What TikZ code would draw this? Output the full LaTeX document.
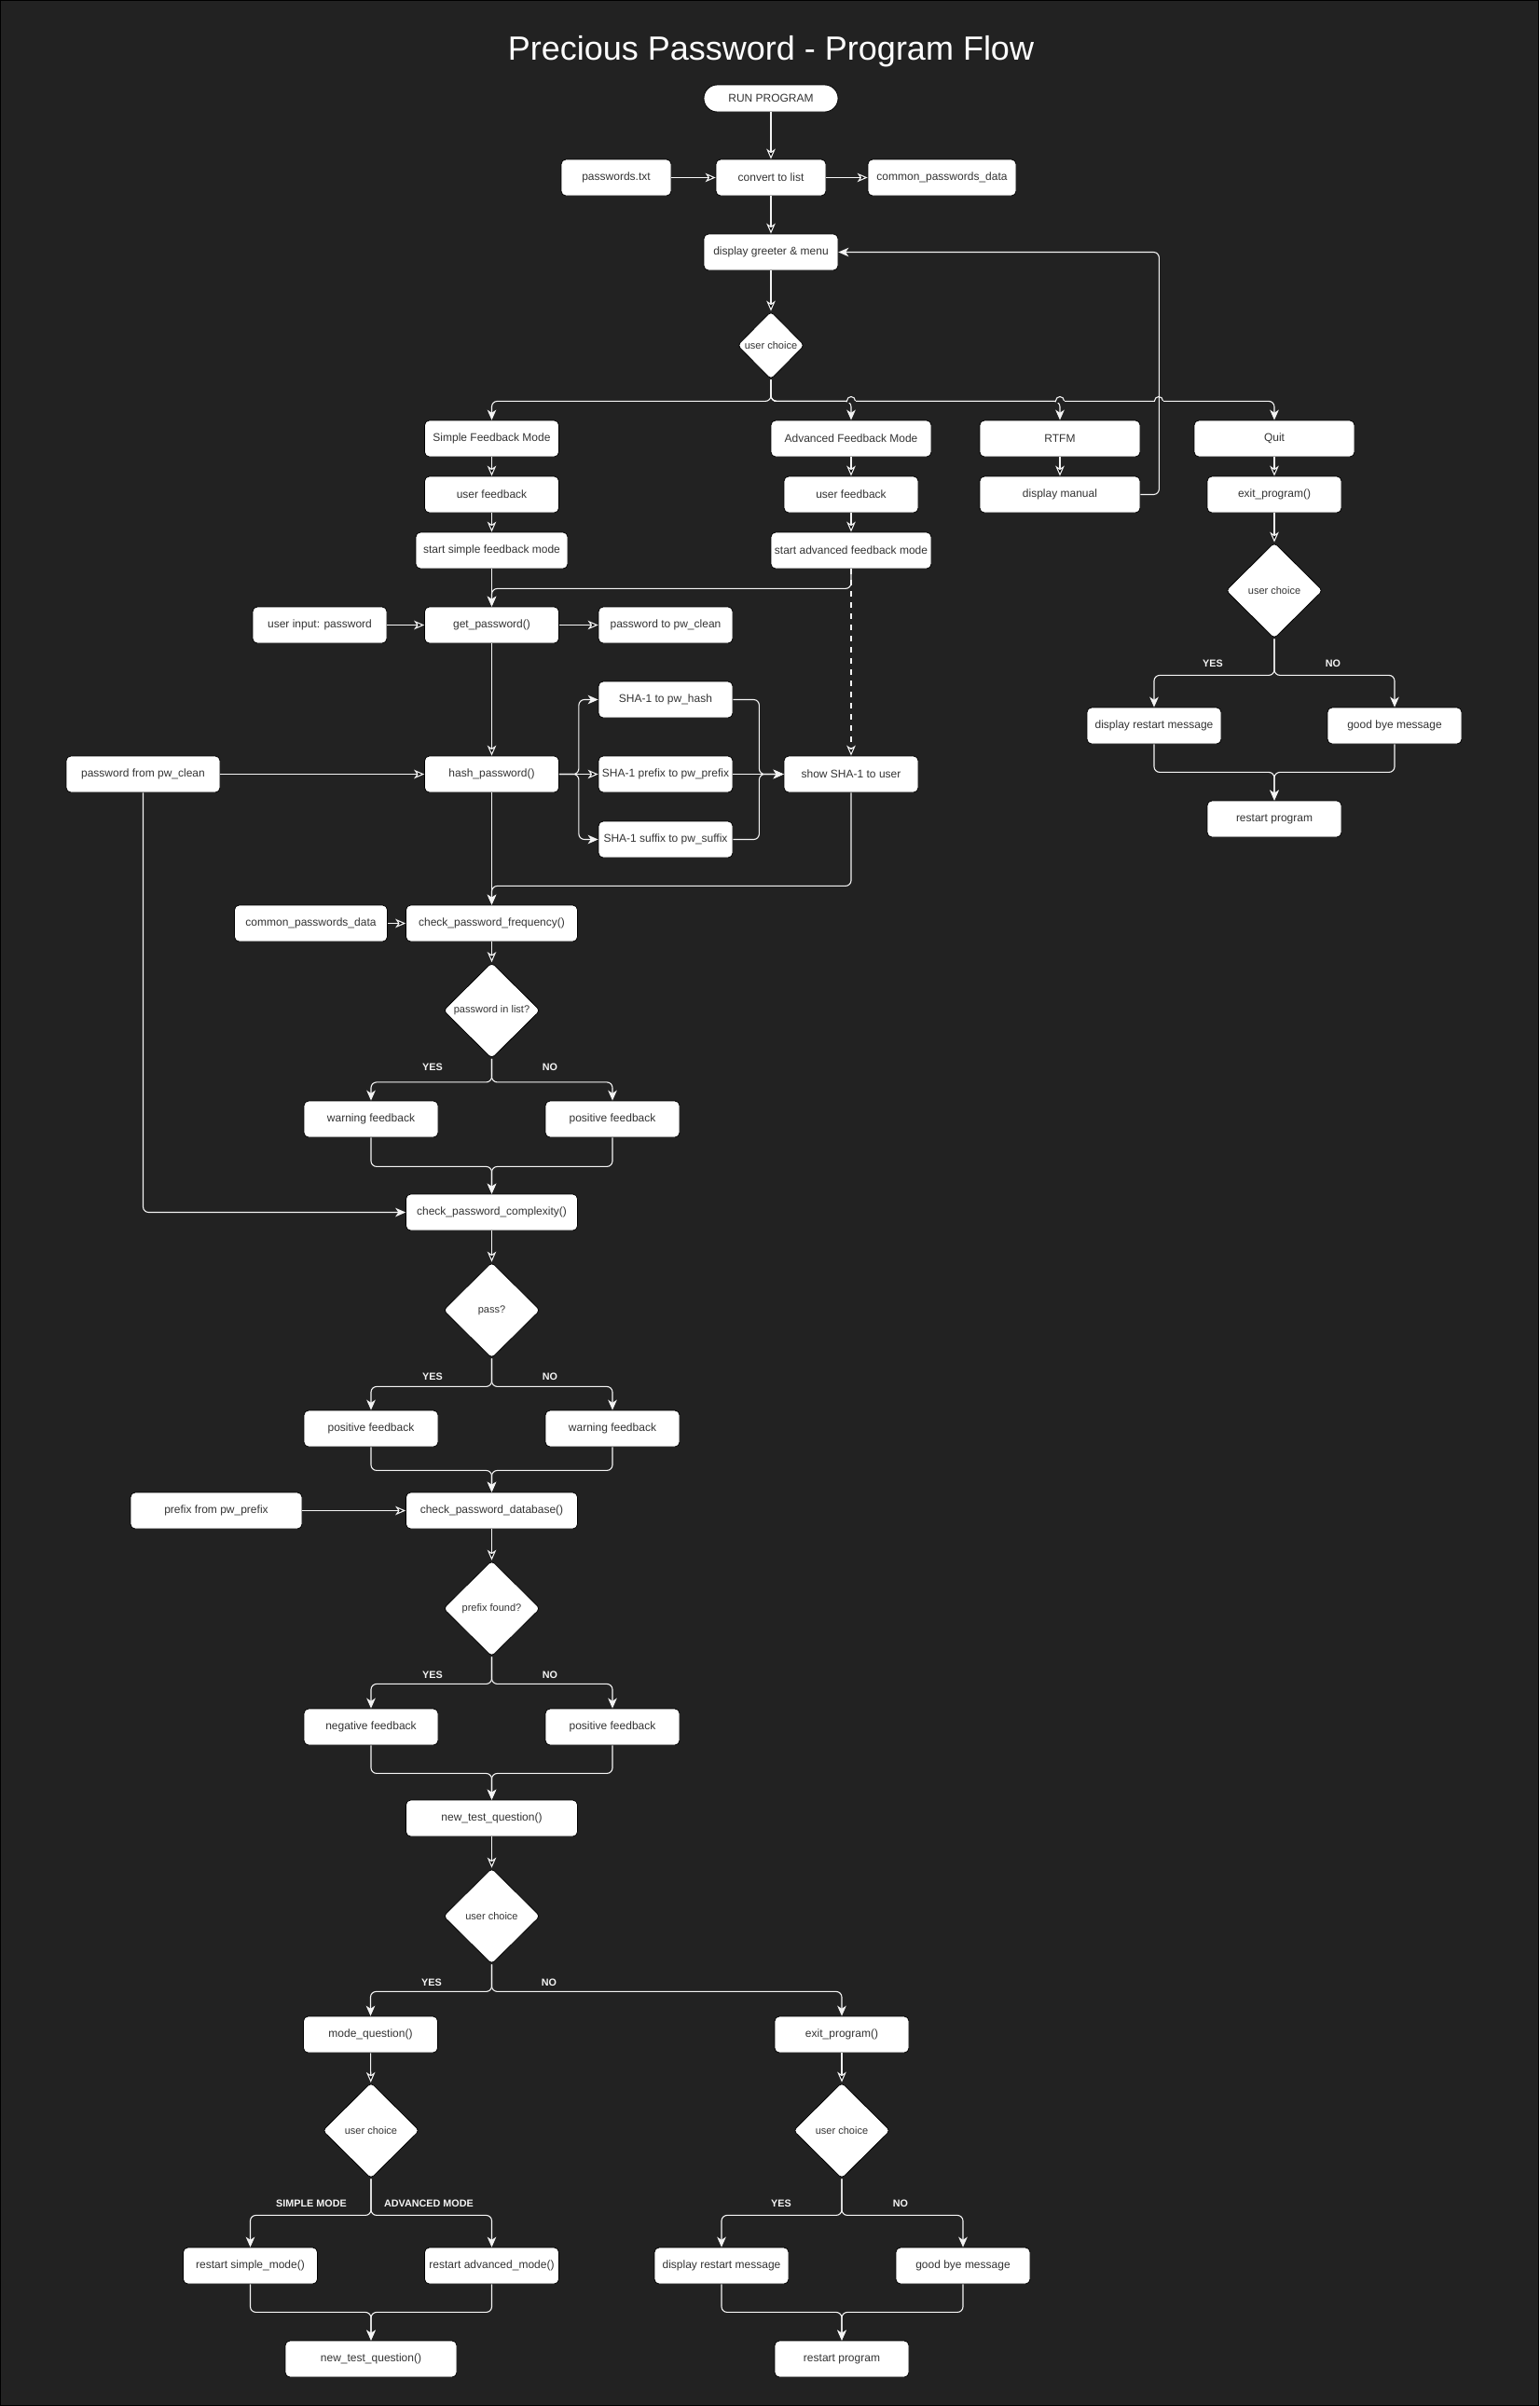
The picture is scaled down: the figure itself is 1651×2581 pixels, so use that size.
\documentclass[tikz,border=0pt]{standalone}
\usepackage{fontspec}
\setmainfont{Liberation Sans}
\usetikzlibrary{shapes.geometric,arrows.meta}

\definecolor{canvas}{HTML}{222222}
\definecolor{ink}{HTML}{333333}
\definecolor{wire}{HTML}{F4F4F4}

\begin{document}
\begin{tikzpicture}[x=0.5pt,y=-0.5pt,>={Stealth[length=5.5pt,width=4.8pt,inset=1.6pt]},
    proc node/.style={rectangle,rounded corners=2.5pt,draw=black,line width=0.4pt,fill=white,text=ink,inner sep=0pt,minimum width=72pt,minimum height=19.5pt,font=\fontsize{6}{7}\selectfont},
    start node/.style={proc node,rounded corners=7.25pt,minimum height=14.5pt},
    choice node/.style={diamond,rounded corners=2pt,draw=black,line width=0.4pt,fill=white,text=ink,inner sep=0pt,minimum width=52pt,minimum height=51.5pt,font=\fontsize{5.5}{6.5}\selectfont},
    branch label/.style={text=wire,font=\bfseries\fontsize{5.4}{6}\selectfont},
    flow/.style={->,draw=wire,line width=0.55pt},
    wire/.style={flow,rounded corners=3pt}]

    \useasboundingbox (0,0) rectangle (1651,2581);
    \fill[canvas] (0,0) rectangle (1651,2581);
    \draw[black,line width=0.6pt] (0.6,0.6) rectangle (1650.4,2580.4);

    \node[text=white,font=\fontsize{18}{22}\selectfont] (title) at (827,55) {Precious Password - Program Flow};

    % start and menu
    \node[start node] (run) at (827,105.5) {RUN PROGRAM};
    \node[proc node,minimum width=59pt] (pwtxt) at (661,190.5) {passwords.txt};
    \node[proc node,minimum width=59pt] (conv) at (827,190.5) {convert to list};
    \node[proc node,minimum width=79.5pt] (cpd1) at (1010.5,190.5) {common\_passwords\_data};
    \node[proc node] (greet) at (827,270.5) {display greeter \& menu};
    \node[choice node,minimum width=36pt,minimum height=36.5pt] (ch1) at (827,370.5) {user choice};

    % menu options
    \node[proc node] (simple) at (527.5,470.5) {Simple Feedback Mode};
    \node[proc node,minimum width=86pt] (adv) at (913,470.5) {Advanced Feedback Mode};
    \node[proc node,minimum width=86pt] (rtfm) at (1137,470.5) {RTFM};
    \node[proc node,minimum width=86pt] (quit) at (1367,470.5) {Quit};
    \node[proc node] (uf1) at (527.5,530.5) {user feedback};
    \node[proc node] (uf2) at (913,530.5) {user feedback};
    \node[proc node,minimum width=86pt] (manual) at (1137,530.5) {display manual};
    \node[proc node] (exit1) at (1367,530.5) {exit\_program()};
    \node[proc node,minimum width=81.5pt] (ssimple) at (527.5,590.5) {start simple feedback mode};
    \node[proc node,minimum width=86pt] (sadv) at (913,590.5) {start advanced feedback mode};

    % quit branch
    \node[choice node] (ch2) at (1367,633.5) {user choice};
    \node[branch label] (yes1) at (1301,712) {YES};
    \node[branch label] (no1) at (1430,712) {NO};
    \node[proc node] (restart1) at (1238,778.5) {display restart message};
    \node[proc node] (bye1) at (1496,778.5) {good bye message};
    \node[proc node] (rprog1) at (1367,878.5) {restart program};

    % password and hashing
    \node[proc node] (uin) at (343,670.5) {user input: password};
    \node[proc node] (getpw) at (527.5,670.5) {get\_password()};
    \node[proc node] (pwclean) at (714,670.5) {password to pw\_clean};
    \node[proc node] (sha) at (714,750.5) {SHA-1 to pw\_hash};
    \node[proc node,minimum width=82.5pt] (pwfrom) at (153.5,830.5) {password from pw\_clean};
    \node[proc node] (hashpw) at (527.5,830.5) {hash\_password()};
    \node[proc node] (pre) at (714,830.5) {SHA-1 prefix to pw\_prefix};
    \node[proc node] (suf) at (714,900.5) {SHA-1 suffix to pw\_suffix};
    \node[proc node] (show) at (913,830.5) {show SHA-1 to user};

    % frequency check
    \node[proc node,minimum width=82pt] (cpd2) at (333.5,990.5) {common\_passwords\_data};
    \node[proc node,minimum width=92pt] (freq) at (527.5,990.5) {check\_password\_frequency()};
    \node[choice node] (inlist) at (527.5,1084) {password in list?};
    \node[branch label] (yes2) at (464,1145) {YES};
    \node[branch label] (no2) at (590,1145) {NO};
    \node[proc node] (warn1) at (398,1200.5) {warning feedback};
    \node[proc node] (pos1) at (657,1200.5) {positive feedback};

    % complexity check
    \node[proc node,minimum width=92pt] (cplx) at (527.5,1300.5) {check\_password\_complexity()};
    \node[choice node] (pass) at (527.5,1405.5) {pass?};
    \node[branch label] (yes3) at (464,1477) {YES};
    \node[branch label] (no3) at (590,1477) {NO};
    \node[proc node] (pos2) at (398,1532.5) {positive feedback};
    \node[proc node] (warn2) at (657,1532.5) {warning feedback};

    % database check
    \node[proc node,minimum width=92pt] (pfx) at (232,1620.5) {prefix from pw\_prefix};
    \node[proc node,minimum width=92pt] (dbase) at (527.5,1620.5) {check\_password\_database()};
    \node[choice node] (found) at (527.5,1725.5) {prefix found?};
    \node[branch label] (yes4) at (464,1797) {YES};
    \node[branch label] (no4) at (590,1797) {NO};
    \node[proc node] (neg) at (398,1852.5) {negative feedback};
    \node[proc node] (pos3) at (657,1852.5) {positive feedback};

    % new test
    \node[proc node,minimum width=92pt] (newq) at (527.5,1950.5) {new\_test\_question()};
    \node[choice node] (ch3) at (527.5,2055.5) {user choice};
    \node[branch label] (yes5) at (463,2127) {YES};
    \node[branch label] (no5) at (589,2127) {NO};
    \node[proc node] (mode) at (397.5,2182.5) {mode\_question()};
    \node[proc node] (exit2) at (903,2182.5) {exit\_program()};
    \node[choice node] (ch4) at (398,2285.5) {user choice};
    \node[choice node] (ch5) at (903,2285.5) {user choice};
    \node[branch label] (smode) at (334,2364) {SIMPLE MODE};
    \node[branch label] (amode) at (460,2364) {ADVANCED MODE};
    \node[branch label] (yes6) at (838,2364) {YES};
    \node[branch label] (no6) at (966,2364) {NO};
    \node[proc node] (rsimple) at (268.5,2430.5) {restart simple\_mode()};
    \node[proc node] (radv) at (527.5,2430.5) {restart advanced\_mode()};
    \node[proc node] (restart2) at (774,2430.5) {display restart message};
    \node[proc node] (bye2) at (1033,2430.5) {good bye message};
    \node[proc node,minimum width=92pt] (newq2) at (398,2530.5) {new\_test\_question()};
    \node[proc node] (rprog2) at (903,2530.5) {restart program};

    \path[flow]
        (run) edge (conv)
        (pwtxt) edge (conv)
        (conv) edge (cpd1)
        (conv) edge (greet)
        (greet) edge (ch1)
        (simple) edge (uf1)
        (uf1) edge (ssimple)
        (adv) edge (uf2)
        (uf2) edge (sadv)
        (rtfm) edge (manual)
        (quit) edge (exit1)
        (exit1) edge (ch2)
        (ssimple) edge (getpw)
        (uin) edge (getpw)
        (getpw) edge (pwclean)
        (getpw) edge (hashpw)
        (pwfrom) edge (hashpw)
        (hashpw) edge (pre)
        (pre) edge (show)
        (hashpw) edge (freq)
        (cpd2) edge (freq)
        (freq) edge (inlist)
        (cplx) edge (pass)
        (pfx) edge (dbase)
        (dbase) edge (found)
        (newq) edge (ch3)
        (mode) edge (ch4)
        (exit2) edge (ch5)
        (sadv) edge[dashed] (show)
        ;

    % menu split
    \draw[wire] (ch1.south) -- ++(0,23) -| (simple);
    \draw[wire] (ch1.south) -- ++(0,23) -| (adv);
    \draw[wire] (ch1.south) -- ++(0,23) -| (rtfm);
    \draw[wire] (ch1.south) -- ++(0,23) -| (quit);
    \foreach \hx in {913,1137,1243} {
        \fill[canvas] (\hx-4.5,428) rectangle (\hx+4.5,432);
        \draw[flow,-] (\hx-4.5,430) arc[start angle=180,end angle=0,radius=2.25pt];
    }
    \draw[wire] (manual.east) -- ++(20,0) |- (greet);

    \draw[wire] (sadv.south) -- ++(0,21) -| (getpw);
    \draw[wire] (hashpw.east) -- ++(21,0) |- (sha);
    \draw[wire] (hashpw.east) -- ++(21,0) |- (suf);
    \draw[wire] (sha.east) -- ++(28,0) |- (show);
    \draw[wire] (suf.east) -- ++(28,0) |- (show);
    \draw[wire] (show.south) -- ++(0,100) -| (freq);
    \draw[wire] (pwfrom.south) |- (cplx);

    % yes / no splits and joins
    \draw[wire] (ch2.south) -- ++(0,39) -| (restart1);
    \draw[wire] (ch2.south) -- ++(0,39) -| (bye1);
    \draw[wire] (restart1.south) -- ++(0,30) -| (rprog1);
    \draw[wire] (bye1.south) -- ++(0,30) -| (rprog1);

    \draw[wire] (inlist.south) -- ++(0,25) -| (warn1);
    \draw[wire] (inlist.south) -- ++(0,25) -| (pos1);
    \draw[wire] (warn1.south) -- ++(0,31) -| (cplx);
    \draw[wire] (pos1.south) -- ++(0,31) -| (cplx);

    \draw[wire] (pass.south) -- ++(0,30) -| (pos2);
    \draw[wire] (pass.south) -- ++(0,30) -| (warn2);
    \draw[wire] (pos2.south) -- ++(0,25) -| (dbase);
    \draw[wire] (warn2.south) -- ++(0,25) -| (dbase);

    \draw[wire] (found.south) -- ++(0,29) -| (neg);
    \draw[wire] (found.south) -- ++(0,29) -| (pos3);
    \draw[wire] (neg.south) -- ++(0,30) -| (newq);
    \draw[wire] (pos3.south) -- ++(0,30) -| (newq);

    \draw[wire] (ch3.south) -- ++(0,29) -| (mode);
    \draw[wire] (ch3.south) -- ++(0,29) -| (exit2);

    \draw[wire] (ch4.south) -- ++(0,39) -| (rsimple);
    \draw[wire] (ch4.south) -- ++(0,39) -| (radv);
    \draw[wire] (rsimple.south) -- ++(0,30) -| (newq2);
    \draw[wire] (radv.south) -- ++(0,30) -| (newq2);

    \draw[wire] (ch5.south) -- ++(0,39) -| (restart2);
    \draw[wire] (ch5.south) -- ++(0,39) -| (bye2);
    \draw[wire] (restart2.south) -- ++(0,30) -| (rprog2);
    \draw[wire] (bye2.south) -- ++(0,30) -| (rprog2);
\end{tikzpicture}
\end{document}
